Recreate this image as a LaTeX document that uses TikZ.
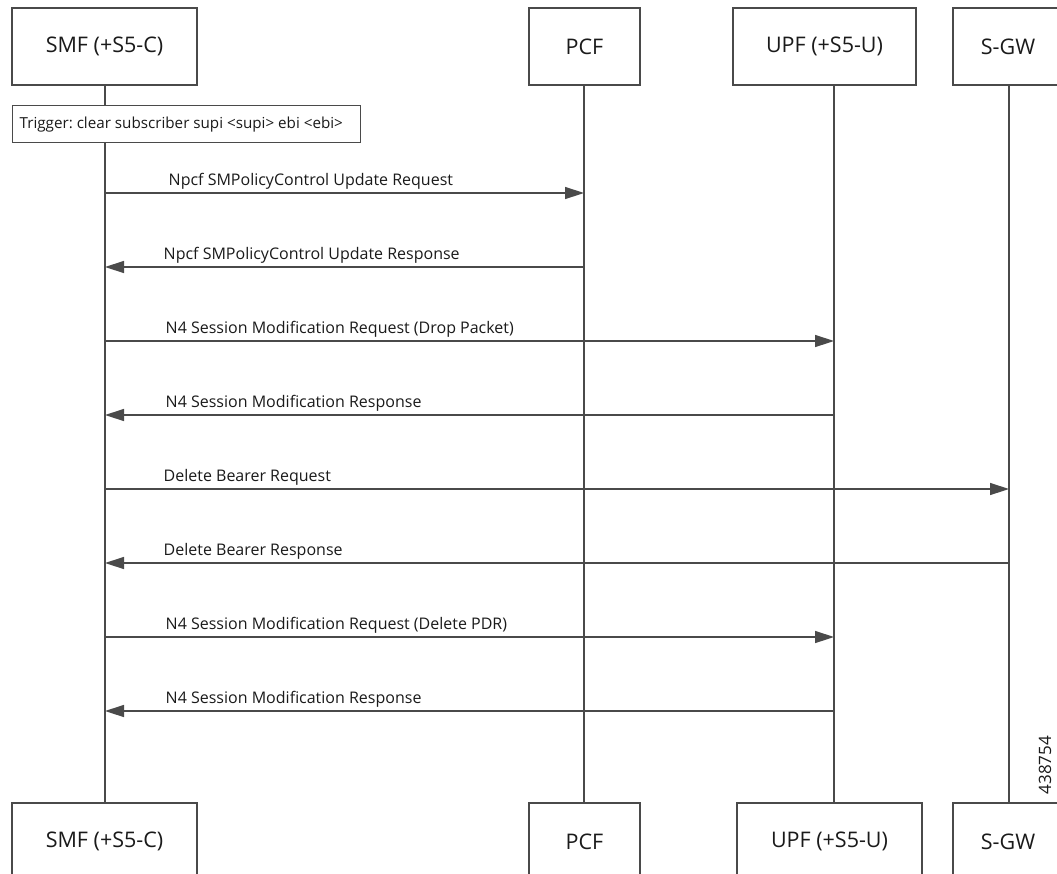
\documentclass[tikz,border=0pt]{standalone}
\usepackage{fontspec}
\setmainfont{Open Sans}
\usepackage{tikz}
\usetikzlibrary{arrows.meta}
\frenchspacing

\definecolor{linegray}{HTML}{4A4A4A}
\definecolor{textgray}{HTML}{1A1A1A}

\tikzset{
  party/.style={draw=linegray,line width=1.4pt,fill=white,minimum height=77pt,
    text=textgray,font=\fontsize{21.5}{24}\selectfont},
  life/.style={draw=linegray,line width=1.4pt},
  msg/.style={draw=linegray,line width=1.4pt,-{Triangle[length=19pt,width=12pt]}},
  lbl/.style={text=textgray,font=\fontsize{16}{19}\selectfont,inner sep=0pt,anchor=base west},
}

\begin{document}
\begin{tikzpicture}[x=1pt,y=-1pt]
    \useasboundingbox (0,0) rectangle (1057,873);
    \clip (0,0) rectangle (1057,873);

    % lifeline positions and message rows
    \coordinate (smfx) at (105,0);
    \coordinate (pcfx) at (584,0);
    \coordinate (upfx) at (834,0);
    \coordinate (sgwx) at (1009,0);
    \foreach \y [count=\i] in {193,267,341,415,489,563,637,711}
        \coordinate (r\i) at (0,\y);

    % participants, top
    \node[party,minimum width=185pt] (smftop) at (104.5,46.5) {SMF (+S5-C)};
    \node[party,minimum width=111pt] (pcftop) at (584.5,46.5) {PCF};
    \node[party,minimum width=183pt] (upftop) at (824.5,46.5) {UPF (+S5-U)};
    \node[party,minimum width=110pt] (sgwtop) at (1008,46.5) {S-GW};

    % participants, bottom
    \node[party,minimum width=185pt] (smfbot) at (104.5,841.5) {SMF (+S5-C)};
    \node[party,minimum width=111pt] (pcfbot) at (584.5,841.5) {PCF};
    \node[party,minimum width=185pt] (upfbot) at (829.5,841.5) {UPF (+S5-U)};
    \node[party,minimum width=110pt] (sgwbot) at (1008,841.5) {S-GW};

    % lifelines
    \draw[life] (smfx |- smftop.south) -- (smfx |- smfbot.north);
    \draw[life] (pcfx |- pcftop.south) -- (pcfx |- pcfbot.north);
    \draw[life] (upfx |- upftop.south) -- (upfx |- upfbot.north);
    \draw[life] (sgwx |- sgwtop.south) -- (sgwx |- sgwbot.north);

    % trigger
    \node[draw=linegray,line width=1.4pt,fill=white,anchor=north west,minimum height=37pt,
          inner xsep=7pt,text=textgray,font=\fontsize{15.2}{18}\selectfont] (trigger) at (12,105)
          {\makebox[334pt][l]{Trigger: clear subscriber supi <supi> ebi <ebi>}};

    % messages
    \draw[msg] (smfx |- r1) -- (pcfx |- r1)
        node[lbl,at start,xshift=63pt,yshift=8pt] (m1) {Npcf SMPolicyControl Update Request};
    \draw[msg] (pcfx |- r2) -- (smfx |- r2)
        node[lbl,at end,xshift=58pt,yshift=8pt] (m2) {Npcf SMPolicyControl Update Response};
    \draw[msg] (smfx |- r3) -- (upfx |- r3)
        node[lbl,at start,xshift=60pt,yshift=8pt] (m3) {N4 Session Modification Request (Drop Packet)};
    \draw[msg] (upfx |- r4) -- (smfx |- r4)
        node[lbl,at end,xshift=60pt,yshift=8pt] (m4) {N4 Session Modification Response};
    \draw[msg] (smfx |- r5) -- (sgwx |- r5)
        node[lbl,at start,xshift=58pt,yshift=8pt] (m5) {Delete Bearer Request};
    \draw[msg] (sgwx |- r6) -- (smfx |- r6)
        node[lbl,at end,xshift=58pt,yshift=8pt] (m6) {Delete Bearer Response};
    \draw[msg] (smfx |- r7) -- (upfx |- r7)
        node[lbl,at start,xshift=60pt,yshift=8pt] (m7) {N4 Session Modification Request (Delete PDR)};
    \draw[msg] (upfx |- r8) -- (smfx |- r8)
        node[lbl,at end,xshift=60pt,yshift=8pt] (m8) {N4 Session Modification Response};

    % figure number
    \node[rotate=90,text=textgray,font=\fontsize{17}{19}\selectfont] (fignum) at (1045,765) {438754};
\end{tikzpicture}
\end{document}
